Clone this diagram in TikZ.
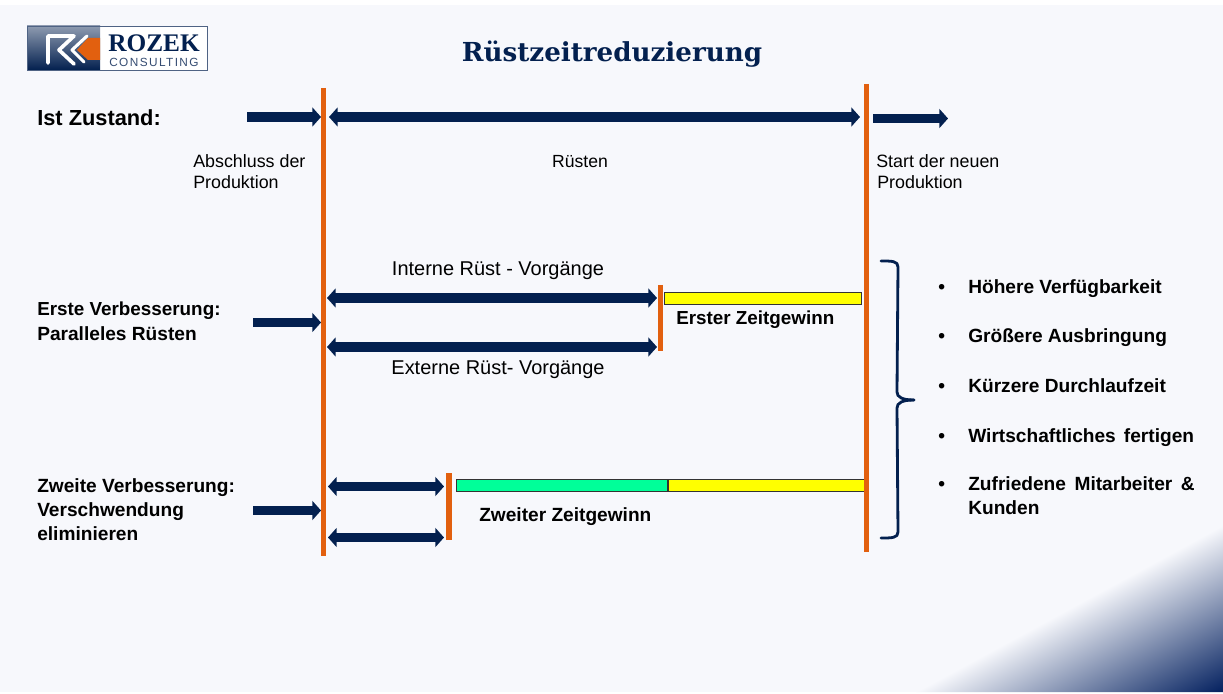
\documentclass[tikz,border=0pt]{standalone}
\usepackage{fontspec}
\setmainfont{Liberation Sans}
\newfontfamily\slabfont{DejaVu Serif}
\newfontfamily\logofont{Liberation Serif}
\newfontfamily\logosubfont[LetterSpace=12]{Liberation Sans}
\usetikzlibrary{arrows.meta, positioning}
\definecolor{pagebg}{HTML}{F7F8FC}
\definecolor{navy}{HTML}{03204F}
\definecolor{cornernavy}{HTML}{03205F}
\definecolor{barorange}{HTML}{E2600F}
\definecolor{gainyellow}{HTML}{FFFF00}
\definecolor{gaingreen}{HTML}{00FF99}
\pgfdeclarehorizontalshading{cornerfade}{420bp}{color(0bp)=(pagebg); color(104bp)=(cornernavy)}

\begin{document}
\begin{tikzpicture}[
    x=0.025cm,
    y=-0.025cm,
    timeline/.style={-{Triangle[length=6.2pt,width=13.5pt]}, navy, line width=7pt},
    span/.style={{Triangle[length=6.2pt,width=13.5pt]}-{Triangle[length=6.2pt,width=13.5pt]}, navy, line width=7pt},
    limit bar/.style={barorange, line width=3.6pt},
    plain text/.style={anchor=base west, inner sep=0pt, font=\fontsize{12.7}{15}\selectfont, align=left},
    mid text/.style={anchor=base, inner sep=0pt, font=\fontsize{14.2}{15}\selectfont},
    bold text/.style={anchor=base west, inner sep=0pt, font=\fontsize{13.6}{17.5}\selectfont\bfseries, align=left},
    gain bar/.style={draw=black!80, line width=0.6pt, inner sep=0pt, minimum height=8.5pt, anchor=west}
]

% Page background with white edges
\useasboundingbox (0,0) rectangle (1223,694);
\fill[white] (0,0) rectangle (1223,694);
\fill[pagebg] (0,5) rectangle (1223,692);

% Corner gradient
\begin{scope}
    \clip (915,692) -- (1223,525) -- (1223,692) -- cycle;
    \node[rotate=-61.5, inner sep=0pt] (corner) at (1188,627.5) {\pgfuseshading{cornerfade}};
\end{scope}

% Logo
\fill[white] (27,26) rectangle (207,70);
\shade[top color=navy!45, bottom color=navy] (27,26) rectangle (100,70);
\draw[navy!70, line width=0.5pt] (27,26) rectangle (207,70);
\draw[white, line width=2.6pt, line cap=round, line join=round]
    (48,63) -- (48,36) -- (74,36) -- (59,50) -- (74,64);
\draw[white, line width=2.2pt, line cap=round, line join=round]
    (87,36) -- (72,50) -- (84,62);
\fill[barorange] (77,50) -- (88,38) -- (100,38) -- (100,60) -- (88,60) -- cycle;
\node[anchor=base west, inner sep=0pt, navy, font=\logofont\fontsize{18}{18}\selectfont\bfseries] (logo name) at (108,52) {ROZEK};
\node[anchor=base west, inner sep=0pt, navy!80, font=\logosubfont\fontsize{8.4}{9}\selectfont] (logo sub) at (109,67) {CONSULTING};

% Title
\node[anchor=base, inner sep=0pt, navy, font=\slabfont\fontsize{18.6}{22}\selectfont\bfseries] (title) at (612,62) {Rüstzeitreduzierung};

% Gain bars
\node[gain bar, fill=gainyellow, minimum width=140pt] (gain1) at (664,298.5) {};
\node[gain bar, fill=gaingreen, minimum width=150pt, minimum height=8.1pt] (gain2) at (456,485.5) {};
\node[gain bar, fill=gainyellow, minimum width=140pt, minimum height=8.1pt] (gain3) at (gain2.east) {};

% Orange limits
\coordinate (startTop) at (323.5,88);
\coordinate (startBot) at (323.5,556);
\coordinate (endTop) at (866.5,84);
\coordinate (endBot) at (866.5,552);
\coordinate (firstTop) at (660.5,285);
\coordinate (firstBot) at (660.5,351);
\coordinate (secondTop) at (449,473);
\coordinate (secondBot) at (449,540);
\draw[limit bar] (startTop) -- (startBot);
\draw[limit bar] (endTop) -- (endBot);
\draw[limit bar] (firstTop) -- (firstBot);
\draw[limit bar, line width=4.2pt] (secondTop) -- (secondBot);

% Current state row
\coordinate (a1) at (247,117);
\coordinate (a2) at (321,117);
\coordinate (a3) at (329,117);
\coordinate (a4) at (860,117);
\coordinate (a5) at (873,118.5);
\coordinate (a6) at (948,118.5);
\draw[timeline] (a1) -- (a2);
\draw[span] (a3) -- (a4);
\draw[timeline] (a5) -- (a6);

\node[bold text, font=\fontsize{15.5}{18}\selectfont\bfseries] (ist) at (37,126) {Ist Zustand:};
\node[plain text] (finish) at (193,168) {Abschluss der};
\node[plain text] (finish2) at (193,189) {Produktion};
\node[mid text, font=\fontsize{12.5}{15}\selectfont] (setup) at (580,168) {Rüsten};
\node[plain text] (begin) at (876,168) {Start der neuen};
\node[plain text] (begin2) at (877,189) {Produktion};

% First improvement row
\coordinate (b1) at (253,322.5);
\coordinate (b2) at (321,322.5);
\coordinate (b3) at (327,298);
\coordinate (b4) at (657,298);
\coordinate (b5) at (327,347);
\coordinate (b6) at (657,347);
\draw[timeline] (b1) -- (b2);
\draw[span] (b3) -- (b4);
\draw[span] (b5) -- (b6);

\node[bold text, font=\fontsize{13.4}{17.5}\selectfont\bfseries] (first1) at (37,316) {Erste Verbesserung:};
\node[bold text] (first2) at (37,341) {Paralleles Rüsten};
\node[mid text] (internal) at (498,276) {Interne Rüst - Vorgänge};
\node[mid text] (external) at (498,375) {Externe Rüst- Vorgänge};
\node[bold text, font=\fontsize{13.4}{17.5}\selectfont\bfseries] (gain1 text) at (676,325) {Erster Zeitgewinn};

% Second improvement row
\coordinate (c1) at (253,510.5);
\coordinate (c2) at (321,510.5);
\coordinate (c3) at (328,486.5);
\coordinate (c4) at (444,486.5);
\coordinate (c5) at (328,537.5);
\coordinate (c6) at (444,537.5);
\draw[timeline] (c1) -- (c2);
\draw[span] (c3) -- (c4);
\draw[span] (c5) -- (c6);

\node[bold text] (second1) at (37,492) {Zweite Verbesserung:};
\node[bold text] (second2) at (37,516) {Verschwendung};
\node[bold text] (second3) at (37,540) {eliminieren};
\node[bold text] (gain2 text) at (479,521) {Zweiter Zeitgewinn};

% Brace to the benefits
\coordinate (braceTop) at (881,261);
\coordinate (braceTip) at (914,400);
\coordinate (braceBot) at (881,538);
\draw[navy, line width=2pt, line cap=round]
    (braceTop) .. controls (892,261) and (898,261) .. (898,267)
    -- (897,392) .. controls (897,397) and (902,400) .. (braceTip);
\draw[navy, line width=2pt, line cap=round]
    (braceBot) .. controls (892,538) and (898,538) .. (898,532)
    -- (897,408) .. controls (897,403) and (902,400) .. (braceTip);

% Benefits
\foreach \name/\ypos/\txt in {r1/294/Höhere Verfügbarkeit,
                              r2/343/Größere Ausbringung,
                              r3/393/Kürzere Durchlaufzeit,
                              r4/442/Wirtschaftliches\hspace{2pt} fertigen,
                              r5/490/Zufriedene\hspace{2.3pt} Mitarbeiter\hspace{2.3pt} \&} {
    \node[bold text] (\name dot) at (938,\ypos) {•};
    \node[bold text] (\name) at (968,\ypos) {\txt};
}
\node[bold text] (r6) at (968,514) {Kunden};

\end{tikzpicture}
\end{document}
